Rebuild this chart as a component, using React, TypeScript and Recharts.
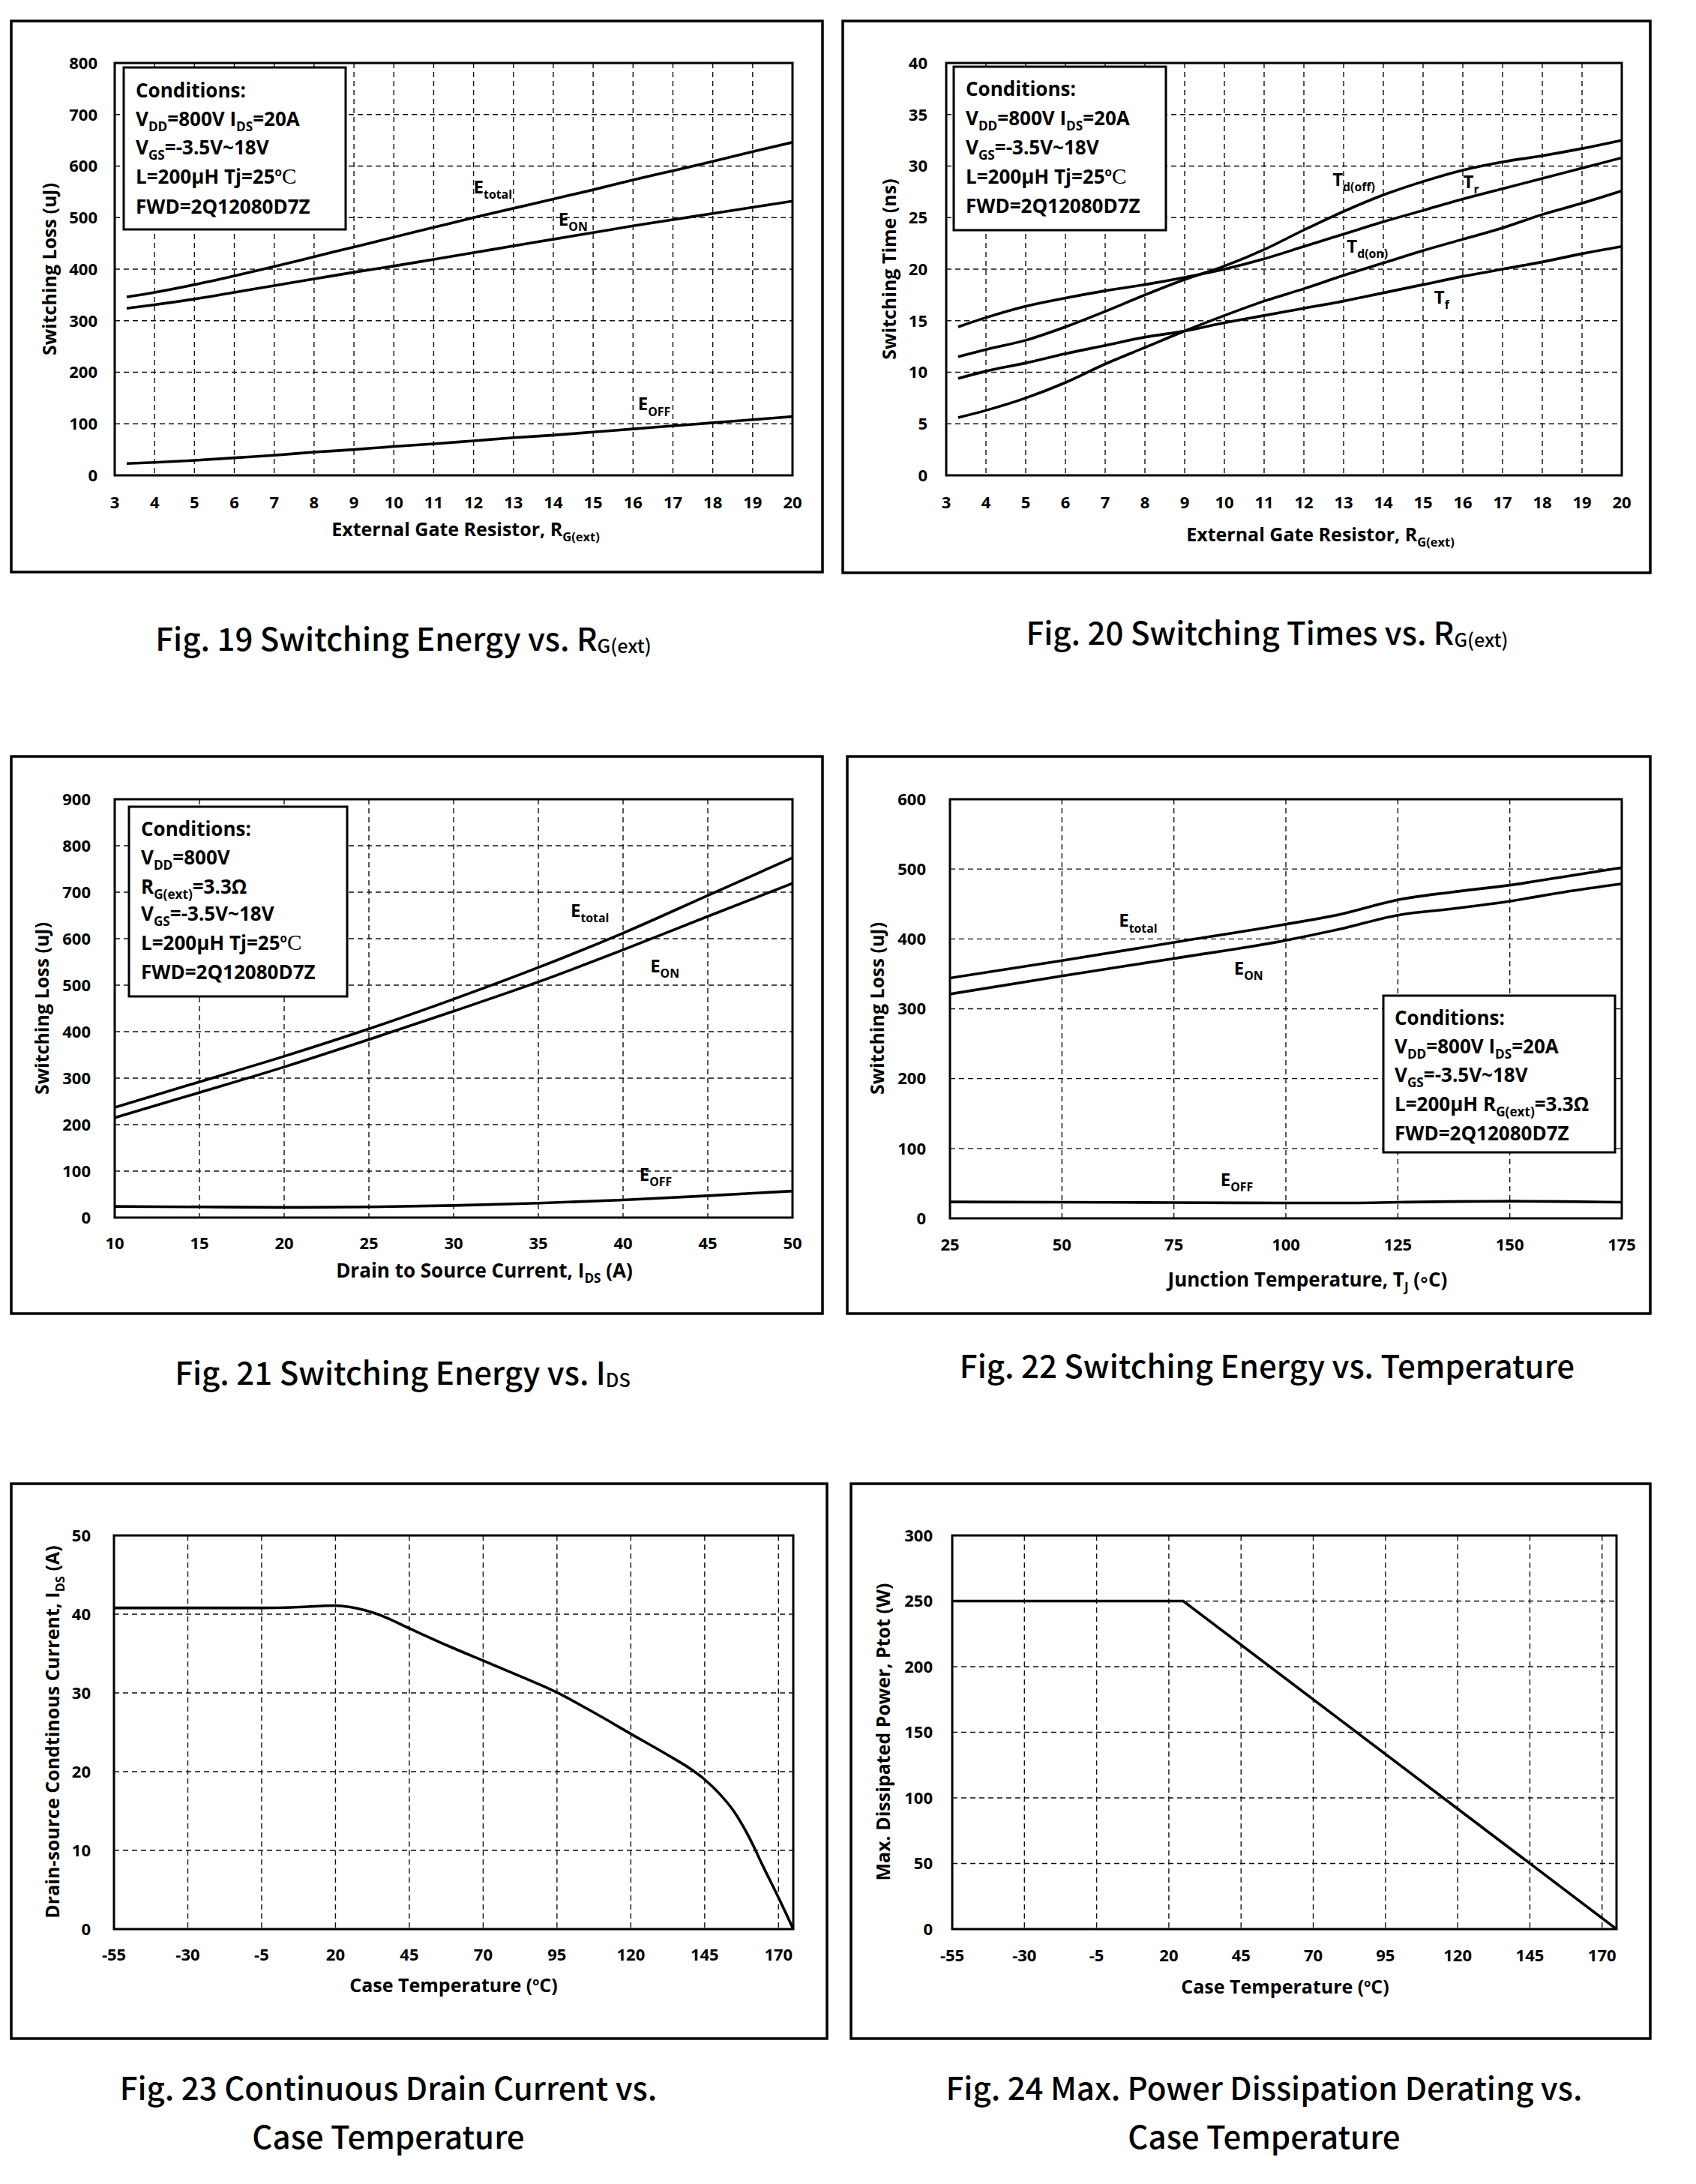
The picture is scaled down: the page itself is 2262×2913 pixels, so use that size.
import React from 'react';
import { LineChart, Line, XAxis, YAxis, CartesianGrid, ReferenceArea, ReferenceDot } from 'recharts';

const CHART_FONT = "'Open Sans', Lato, sans-serif";
const CAPTION_FONT = "'Noto Sans CJK SC', 'Noto Sans', sans-serif";

// Fig. 19 / Fig. 20 — external gate resistor sweep
const rgValues = [3.3, 4, 5, 6, 7, 8, 9, 10, 11, 12, 13, 14, 15, 16, 17, 18, 19, 20];
const rgTicks = [3, 4, 5, 6, 7, 8, 9, 10, 11, 12, 13, 14, 15, 16, 17, 18, 19, 20];
const fig19Etotal = [346, 355, 370, 387, 405, 424, 443, 462, 481, 500, 518, 536, 554, 573, 591, 609, 628, 646];
const fig19Eon = [324, 331, 342, 355, 368, 381, 394, 406, 419, 432, 445, 458, 471, 484, 496, 508, 520, 532];
const fig19Eoff = [23, 25, 29, 34, 39, 45, 50, 56, 61, 67, 73, 78, 84, 90, 96, 102, 108, 114];
const lossTicks800 = [0, 100, 200, 300, 400, 500, 600, 700, 800];

const fig20Tdoff = [11.5, 12.2, 13.1, 14.4, 15.9, 17.5, 19.0, 20.3, 21.9, 23.8, 25.6, 27.2, 28.5, 29.6, 30.4, 31.0, 31.7, 32.5];
const fig20Tr = [14.4, 15.3, 16.4, 17.2, 17.9, 18.5, 19.2, 20.0, 21.0, 22.2, 23.4, 24.6, 25.7, 26.8, 27.8, 28.8, 29.8, 30.8];
const fig20Tdon = [5.6, 6.3, 7.5, 9.0, 10.8, 12.4, 14.0, 15.5, 16.9, 18.1, 19.4, 20.6, 21.8, 22.9, 24.0, 25.3, 26.4, 27.6];
const fig20Tf = [9.4, 10.1, 10.9, 11.8, 12.6, 13.4, 14.0, 14.8, 15.5, 16.2, 16.9, 17.7, 18.5, 19.3, 20.0, 20.7, 21.5, 22.2];
const timeTicks = [0, 5, 10, 15, 20, 25, 30, 35, 40];

// Fig. 21 — drain current sweep
const idsValues = [10, 15, 20, 25, 30, 35, 40, 45, 50];
const fig21Etotal = [237, 292, 347, 406, 470, 538, 612, 693, 774];
const fig21Eon = [215, 269, 324, 383, 444, 507, 576, 648, 719];
const fig21Eoff = [24, 23, 22, 23, 26, 31, 38, 47, 57];
const lossTicks900 = [0, 100, 200, 300, 400, 500, 600, 700, 800, 900];

// Fig. 22 — junction temperature sweep
const tjValues = [25, 50, 75, 100, 112, 125, 137, 150, 162, 175];
const tjTicks = [25, 50, 75, 100, 125, 150, 175];
const fig22Etotal = [344, 369, 395, 421, 435, 456, 467, 477, 489, 502];
const fig22Eon = [321, 347, 372, 398, 414, 434, 443, 454, 467, 479];
const fig22Eoff = [23.5, 23, 22.5, 22, 22, 23, 24, 24.5, 24, 23];
const lossTicks600 = [0, 100, 200, 300, 400, 500, 600];

// Fig. 23 / Fig. 24 — case temperature derating
const caseTicks = [-55, -30, -5, 20, 45, 70, 95, 120, 145, 170];
const fig23Tc = [-55, -30, -5, 5, 20, 25, 35, 45, 58, 70, 82, 95, 108, 120, 133, 140, 145, 150, 155, 160, 165, 170, 175];
const fig23Ids = [40.8, 40.8, 40.8, 40.85, 41.1, 40.9, 39.9, 38.2, 36.0, 34.1, 32.2, 30.05, 27.4, 24.8, 22.0, 20.4, 19.0, 17.2, 14.9, 11.7, 7.8, 4.0, 0];
const currentTicks = [0, 10, 20, 30, 40, 50];
const fig24Tc = [-55, 25, 175];
const fig24Ptot = [250, 250, 0];
const powerTicks = [0, 50, 100, 150, 200, 250, 300];

const condA = ['Conditions:', 'V_{DD}=800V I_{DS}=20A', 'V_{GS}=-3.5V~18V', 'L=200µH Tj=25^{o}!{C}', 'FWD=2Q12080D7Z'];
const condB = ['Conditions:', 'V_{DD}=800V', 'R_{G(ext)}=3.3Ω', 'V_{GS}=-3.5V~18V', 'L=200µH Tj=25^{o}!{C}', 'FWD=2Q12080D7Z'];
const condC = ['Conditions:', 'V_{DD}=800V I_{DS}=20A', 'V_{GS}=-3.5V~18V', 'L=200µH R_{G(ext)}=3.3Ω', 'FWD=2Q12080D7Z'];

type Seg = { t: string; k: 'n' | 'sub' | 'sup' | 'serif' };
function parseRich(s: string): Seg[] {
  const out: Seg[] = [];
  const re = /([_^!])\{([^}]*)\}/g;
  let last = 0;
  let m: RegExpExecArray | null;
  while ((m = re.exec(s))) {
    if (m.index > last) out.push({ t: s.slice(last, m.index), k: 'n' });
    out.push({ t: m[2], k: m[1] === '_' ? 'sub' : m[1] === '^' ? 'sup' : 'serif' });
    last = re.lastIndex;
  }
  if (last < s.length) out.push({ t: s.slice(last), k: 'n' });
  return out;
}

function RichText(props: any) {
  const { x, y, text, size, anchor = 'start', family = CHART_FONT, weight = 700, transform, subScale = 0.66, subShift = 0.28 } = props;
  let off = 0;
  return (
    <text x={x} y={y} fontSize={size} fontFamily={family} fontWeight={weight} textAnchor={anchor} fill="#000" transform={transform}>
      {parseRich(text).map((sg, i) => {
        const target = sg.k === 'sub' ? size * subShift : sg.k === 'sup' ? -size * 0.38 : 0;
        const dy = target - off;
        off = target;
        const fs = sg.k === 'sub' ? size * subScale : sg.k === 'sup' ? size * 0.58 : sg.k === 'serif' ? size * 1.12 : size;
        return (
          <tspan key={i} dy={dy} fontSize={fs}
            fontFamily={sg.k === 'serif' ? "'Liberation Serif', serif" : undefined}
            fontWeight={sg.k === 'serif' ? 400 : undefined}>{sg.t}</tspan>
        );
      })}
    </text>
  );
}

const rows = (xs: number[], cols: Record<string, number[]>) =>
  xs.map((x, i) => {
    const r: any = { x };
    Object.keys(cols).forEach((k) => { r[k] = cols[k][i]; });
    return r;
  });

const panels: any[] = [
  {
    frame: [15, 28, 1082, 735], plot: [153, 84, 1057, 634],
    xDomain: [3, 20], xTicks: rgTicks, yDomain: [0, 800], yTicks: lossTicks800, xGap: 28, yGap: 23,
    data: rows(rgValues, { etot: fig19Etotal, eon: fig19Eon, eoff: fig19Eoff }), keys: ['etot', 'eon', 'eoff'],
    labels: [{ x: 12.0, y: 547, t: 'E_{total}' }, { x: 14.13, y: 484, t: 'E_{ON}' }, { x: 16.12, y: 126, t: 'E_{OFF}' }],
    yTitle: 'Switching Loss (uJ)', yTitlePos: [66, 359],
    xTitle: 'External Gate Resistor, R_{G(ext)}', xTitlePos: [621, 715],
    cond: { box: [165, 90, 461, 306], tx: 181, lines: condA, base: [130, 168, 206, 245, 285] },
    caption: ['Fig. 19 Switching Energy vs. R_{G(ext)}'], capPos: [[538, 868]],
  },
  {
    frame: [1124, 28, 1077, 736], plot: [1262, 84, 2163, 634],
    xDomain: [3, 20], xTicks: rgTicks, yDomain: [0, 40], yTicks: timeTicks, xGap: 28, yGap: 25,
    data: rows(rgValues, { tdoff: fig20Tdoff, tr: fig20Tr, tdon: fig20Tdon, tf: fig20Tf }), keys: ['tdoff', 'tr', 'tdon', 'tf'],
    labels: [{ x: 12.72, y: 28.07, t: 'T_{d(off)}' }, { x: 16.01, y: 27.85, t: 'T_{r}' }, { x: 13.08, y: 21.6, t: 'T_{d(on)}' }, { x: 15.28, y: 16.68, t: 'T_{f}' }],
    yTitle: 'Switching Time (ns)', yTitlePos: [1186, 359],
    xTitle: 'External Gate Resistor, R_{G(ext)}', xTitlePos: [1761, 722],
    cond: { box: [1272, 89, 1555, 307], tx: 1288, lines: condA, base: [128, 167, 206, 245, 284] },
    caption: ['Fig. 20 Switching Times vs. R_{G(ext)}'], capPos: [[1690, 860]],
  },
  {
    frame: [15, 1009, 1082, 743], plot: [153, 1066, 1057, 1624],
    xDomain: [10, 50], xTicks: idsValues, yDomain: [0, 900], yTicks: lossTicks900, xGap: 26, yGap: 32,
    data: rows(idsValues, { etot: fig21Etotal, eon: fig21Eon, eoff: fig21Eoff }), keys: ['etot', 'eon', 'eoff'],
    labels: [{ x: 36.9, y: 647, t: 'E_{total}' }, { x: 41.6, y: 527, t: 'E_{ON}' }, { x: 40.96, y: 79, t: 'E_{OFF}' }],
    yTitle: 'Switching Loss (uJ)', yTitlePos: [56, 1345],
    xTitle: 'Drain to Source Current, I_{DS} (A)', xTitlePos: [646, 1704], xTitleSize: 26,
    cond: { box: [172, 1076, 463, 1329], tx: 188, lines: condB, base: [1115, 1153, 1192, 1228, 1267, 1306] },
    caption: ['Fig. 21 Switching Energy vs. I_{DS}'], capPos: [[537, 1847]],
  },
  {
    frame: [1130, 1009, 1071, 743], plot: [1267, 1066, 2163, 1625],
    xDomain: [25, 175], xTicks: tjTicks, yDomain: [0, 600], yTicks: lossTicks600, xGap: 27, yGap: 32,
    data: rows(tjValues, { etot: fig22Etotal, eon: fig22Eon, eoff: fig22Eoff }), keys: ['etot', 'eon', 'eoff'],
    labels: [{ x: 62.7, y: 417, t: 'E_{total}' }, { x: 88.4, y: 349, t: 'E_{ON}' }, { x: 85.4, y: 46, t: 'E_{OFF}' }],
    yTitle: 'Switching Loss (uJ)', yTitlePos: [1170, 1345],
    xTitle: 'Junction Temperature, T_{J} (◦C)', xTitlePos: [1744, 1716], xTitleSize: 26,
    cond: { box: [1845, 1328, 2154, 1537], tx: 1860, lines: condC, base: [1367, 1405, 1443, 1482, 1521] },
    caption: ['Fig. 22 Switching Energy vs. Temperature'], capPos: [[1690, 1838]],
  },
  {
    frame: [15, 1979, 1088, 740], plot: [152, 2048, 1058, 2573],
    xDomain: [-55, 175], xTicks: caseTicks, yDomain: [0, 50], yTicks: currentTicks, xGap: 26, yGap: 31,
    data: rows(fig23Tc, { ids: fig23Ids }), keys: ['ids'],
    labels: [],
    yTitle: 'Drain-source Condtinous Current, I_{DS} (A)', yTitlePos: [70, 2310],
    xTitle: 'Case Temperature (^{o}C)', xTitlePos: [605, 2657],
    cond: null,
    caption: ['Fig. 23 Continuous Drain Current vs.', 'Case Temperature'], capPos: [[518, 2801], [518, 2866]],
  },
  {
    frame: [1135, 1979, 1066, 740], plot: [1270, 2048, 2156, 2573],
    xDomain: [-55, 175], xTicks: caseTicks, yDomain: [0, 300], yTicks: powerTicks, xGap: 27, yGap: 26, linear: true,
    data: rows(fig24Tc, { ptot: fig24Ptot }), keys: ['ptot'],
    labels: [],
    yTitle: 'Max. Dissipated Power, Ptot (W)', yTitlePos: [1178, 2310],
    xTitle: 'Case Temperature (^{o}C)', xTitlePos: [1714, 2659],
    cond: null,
    caption: ['Fig. 24 Max. Power Dissipation Derating vs.', 'Case Temperature'], capPos: [[1686, 2801], [1686, 2866]],
  },
];

const tickStyle = { fontFamily: CHART_FONT, fontWeight: 700, fontSize: 22, fill: '#000' };
const YW = 60;
const XH = 40;

function Panel({ cfg }: { cfg: any }) {
  const [fx, fy, fw, fh] = cfg.frame;
  const [px0, py0, px1, py1] = cfg.plot;
  const margin = { top: py0 - fy, right: fx + fw - px1, left: px0 - fx - YW, bottom: fy + fh - py1 - XH };
  return (
    <div style={{ position: 'absolute', left: fx, top: fy, width: fw, height: fh }}>
      <LineChart width={fw} height={fh} data={cfg.data} margin={margin}>
        <CartesianGrid stroke="#111" strokeWidth={1.4} strokeDasharray="7 5" />
        <XAxis type="number" dataKey="x" domain={cfg.xDomain} ticks={cfg.xTicks} interval={0} allowDataOverflow
          axisLine={false} tickLine={false} tickSize={0} tickMargin={cfg.xGap} height={XH} tick={tickStyle} />
        <YAxis type="number" domain={cfg.yDomain} ticks={cfg.yTicks} interval={0} allowDataOverflow
          axisLine={false} tickLine={false} tickSize={0} tickMargin={cfg.yGap} width={YW} tick={tickStyle} />
        {cfg.keys.map((k: string) => (
          <Line key={k} dataKey={k} type={cfg.linear ? 'linear' : 'monotone'} stroke="#000" strokeWidth={3.6}
            dot={false} activeDot={false} isAnimationActive={false} />
        ))}
        <ReferenceArea x1={cfg.xDomain[0]} x2={cfg.xDomain[1]} y1={cfg.yDomain[0]} y2={cfg.yDomain[1]}
          fill="none" fillOpacity={0} stroke="#000" strokeWidth={3} ifOverflow="visible" />
        {cfg.labels.map((l: any, i: number) => (
          <ReferenceDot key={i} x={l.x} y={l.y} r={0} fill="none" stroke="none" ifOverflow="visible"
            label={(p: any) => {
              const vb = p.viewBox || p;
              return <RichText x={vb.x} y={vb.y} text={l.t} size={24} subScale={0.66} subShift={0.3} />;
            }} />
        ))}
      </LineChart>
    </div>
  );
}

function Overlay() {
  return (
    <svg width={2262} height={2913} style={{ position: 'absolute', left: 0, top: 0, pointerEvents: 'none' }}>
      {panels.map((cfg, i) => {
        const [fx, fy, fw, fh] = cfg.frame;
        const [ycx, ycy] = cfg.yTitlePos;
        const ybx = ycx + 9;
        return (
          <g key={i}>
            <rect x={fx} y={fy} width={fw} height={fh} fill="none" stroke="#000" strokeWidth={3.5} />
            <RichText x={ybx} y={ycy} text={cfg.yTitle} size={25} anchor="middle" transform={`rotate(-90 ${ybx} ${ycy})`} />
            <RichText x={cfg.xTitlePos[0]} y={cfg.xTitlePos[1]} text={cfg.xTitle} size={cfg.xTitleSize || 25} anchor="middle" />
            {cfg.cond && (
              <g>
                <rect x={cfg.cond.box[0]} y={cfg.cond.box[1]} width={cfg.cond.box[2] - cfg.cond.box[0]}
                  height={cfg.cond.box[3] - cfg.cond.box[1]} fill="#fff" stroke="#000" strokeWidth={3} />
                {cfg.cond.lines.map((ln: string, j: number) => (
                  <RichText key={j} x={cfg.cond.tx} y={cfg.cond.base[j]} text={ln} size={26} />
                ))}
              </g>
            )}
            {cfg.caption.map((c: string, j: number) => (
              <RichText key={j} x={cfg.capPos[j][0]} y={cfg.capPos[j][1]} text={c} size={42}
                family={CAPTION_FONT} weight={500} anchor="middle" subScale={0.6} subShift={0.08} />
            ))}
          </g>
        );
      })}
    </svg>
  );
}

export default function App() {
  return (
    <div style={{ position: 'absolute', left: 0, top: 0, width: 2262, height: 2913, background: '#fff' }}>
      {panels.map((cfg, i) => <Panel key={i} cfg={cfg} />)}
      <Overlay />
    </div>
  );
}
